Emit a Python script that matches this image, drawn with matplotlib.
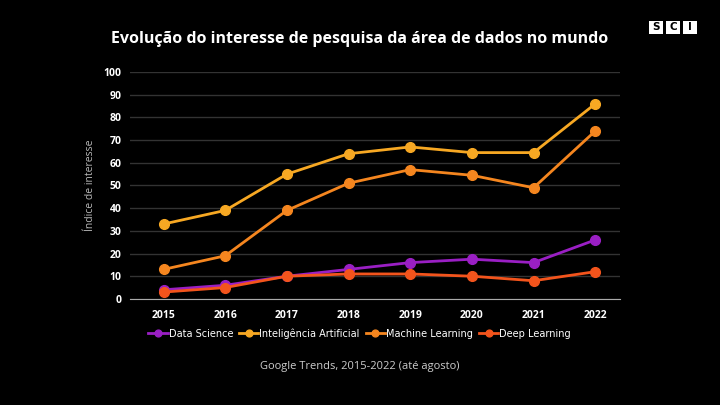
import matplotlib
matplotlib.use('Agg')
import matplotlib.pyplot as plt
from matplotlib.patches import Rectangle

matplotlib.rc('font', family='Open Sans')

years = [2015, 2016, 2017, 2018, 2019, 2020, 2021, 2022]
data_science = [4, 6, 10, 13, 16, 17.5, 16, 26]
ia = [33, 39, 55, 64, 67, 64.5, 64.5, 86]
machine_learning = [13, 19, 39, 51, 57, 54.5, 49, 74]
deep_learning = [3, 5, 10, 11, 11, 10, 8, 12]

series = [
    ('Data Science', data_science, '#9a1fc4'),
    ('Inteligência Artificial', ia, '#f7a823'),
    ('Machine Learning', machine_learning, '#f5861f'),
    ('Deep Learning', deep_learning, '#f3541c'),
]

fig = plt.figure(figsize=(7.2, 4.05), dpi=100, facecolor='black')
ax = fig.add_axes([0.18, 0.262, 0.681, 0.56], facecolor='black')

for name, vals, color in series:
    ax.plot(years, vals, color=color, lw=2, marker='o', ms=7, label=name)

ax.set_ylim(0, 100)
ax.set_yticks(range(0, 101, 10))
ax.set_xlim(2014.45, 2022.4)
ax.set_xticks(years)
ax.grid(axis='y', color='#333333', lw=1)
ax.set_axisbelow(True)
for s in ['top', 'right', 'left']:
    ax.spines[s].set_visible(False)
ax.spines['bottom'].set_color('#aaaaaa')
ax.tick_params(length=0, colors='white', labelsize=7.5)
for lbl in ax.get_xticklabels() + ax.get_yticklabels():
    lbl.set_fontweight('bold')
ax.tick_params(axis='x', pad=8)
ax.tick_params(axis='y', pad=6)
ax.set_ylabel('Índice de interesse', color='#bbbbbb', fontsize=7.5, labelpad=5)

leg = ax.legend(loc='upper center', bbox_to_anchor=(0.469, -0.09), ncol=4, frameon=False,
                prop={'family': 'DejaVu Sans', 'size': 7}, labelcolor='white',
                handlelength=2, handletextpad=0.1, columnspacing=0.6, markerscale=0.7)

fig.text(0.5, 0.895, 'Evolução do interesse de pesquisa da área de dados no mundo',
         color='white', fontsize=11.5, fontweight='bold', ha='center')
fig.text(0.5, 0.09, 'Google Trends, 2015-2022 (até agosto)', color='#cccccc',
         fontsize=8, ha='center')

# SCI logo
for i, ch in enumerate('SCI'):
    x0 = (649 + i * 17) / 720
    fig.add_artist(Rectangle((x0, 1 - 34 / 405), 14 / 720, 13 / 405,
                             transform=fig.transFigure, fc='white', ec='none'))
    fig.text(x0 + 7 / 720, 1 - 27.5 / 405, ch, color='black', fontsize=7.5,
             fontweight='bold', ha='center', va='center', family='DejaVu Sans')

fig.savefig('out.png', facecolor='black')
